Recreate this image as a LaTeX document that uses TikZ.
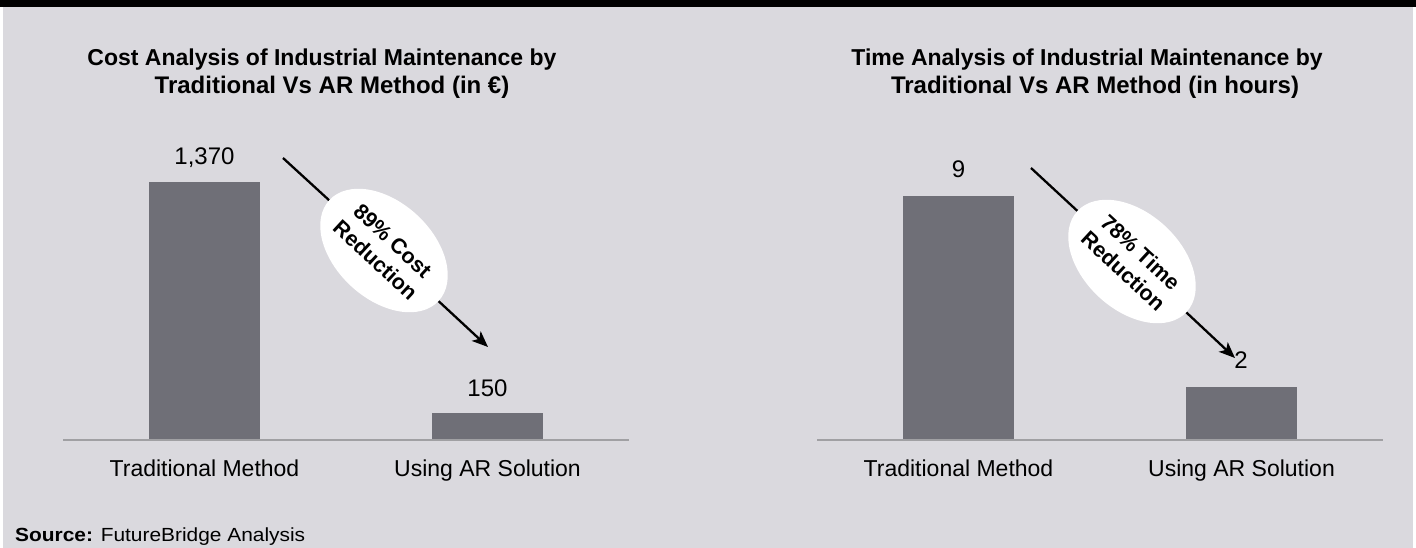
\documentclass[tikz,border=0pt]{standalone}
\usepackage{fontspec}
\setmainfont{Liberation Sans}
\usetikzlibrary{shapes.geometric,arrows.meta}
\definecolor{bg}{RGB}{218,217,222}
\definecolor{barcol}{RGB}{111,111,119}
\definecolor{axiscol}{RGB}{160,160,163}
\begin{document}
\begin{tikzpicture}[x=1pt,y=-1pt,
 title/.style={font=\fontsize{23.5}{28}\selectfont\bfseries, anchor=base, inner sep=0},
 titlea/.style={title, font=\fontsize{23}{28}\selectfont\bfseries},
 titleb/.style={title, font=\fontsize{24}{28}\selectfont\bfseries},
 vlabel/.style={font=\fontsize{24}{28}\selectfont, anchor=base, inner sep=0},
 clabel/.style={font=\fontsize{23}{28}\selectfont, anchor=base, inner sep=0},
 barfill/.style={fill=barcol},
 axisline/.style={draw=axiscol, line width=2pt},
 badge/.style={ellipse, fill=white, minimum width=136pt, minimum height=97pt, inner sep=0pt, rotate=-42.7, align=center, font=\fontsize{21.5}{25.5}\selectfont\bfseries},
 conn/.style={line width=2.3pt, black},
 tip/.style={-{Stealth[length=16pt,width=13pt,inset=4pt]}},
]
\useasboundingbox (0,0) rectangle (1416,548);
\fill[white] (0,0) rectangle (1416,548);
\fill[bg] (3,0) rectangle (1413,548);
\fill[black] (0,0) rectangle (1416,7);

% ---- left chart
\node[titlea] (lt1) at (322,66) {Cost Analysis of Industrial Maintenance by};
\node[titleb] (lt2) at (332,94) {Traditional Vs AR Method (in €)};
\fill[barfill] (149,182) rectangle (260,440);
\fill[barfill] (432,413) rectangle (543,440);
\draw[axisline] (63,440) -- (629,440);
\node[vlabel] (v1) at (204.5,165) {1,370};
\node[vlabel] (v2) at (487.5,396) {150};
\node[clabel] (c1) at (204.5,476) {Traditional Method};
\node[clabel] (c2) at (487.5,476) {Using AR Solution};
\coordinate (s1) at (283,158);
\coordinate (t1) at (488,347);
\node[badge] (e1) at (384,250.5) {89\% Cost\\Reduction};
\draw[conn] (s1) -- (e1);
\draw[conn,tip] (e1) -- (t1);

% ---- right chart
\node[titlea] (rt1) at (1087,66) {Time Analysis of Industrial Maintenance by};
\node[titleb] (rt2) at (1095,94) {Traditional Vs AR Method (in hours)};
\fill[barfill] (903,196) rectangle (1014,440);
\fill[barfill] (1186,387) rectangle (1297,440);
\draw[axisline] (817,440) -- (1383,440);
\node[vlabel] (v3) at (958.5,178) {9};
\node[vlabel] (v4) at (1241,368) {2};
\node[clabel] (c3) at (958.5,476) {Traditional Method};
\node[clabel] (c4) at (1241.5,476) {Using AR Solution};
\coordinate (s2) at (1031,168);
\coordinate (t2) at (1235,358);
\node[badge] (e2) at (1132,261.5) {78\% Time\\Reduction};
\draw[conn] (s2) -- (e2);
\draw[conn,tip] (e2) -- (t2);

% ---- source
\node[anchor=base west, inner sep=0pt, font=\fontsize{19}{22}\selectfont] (src) at (15,541) {\scalebox{1.1}[1]{\textbf{Source:} FutureBridge Analysis}};
\end{tikzpicture}
\end{document}
